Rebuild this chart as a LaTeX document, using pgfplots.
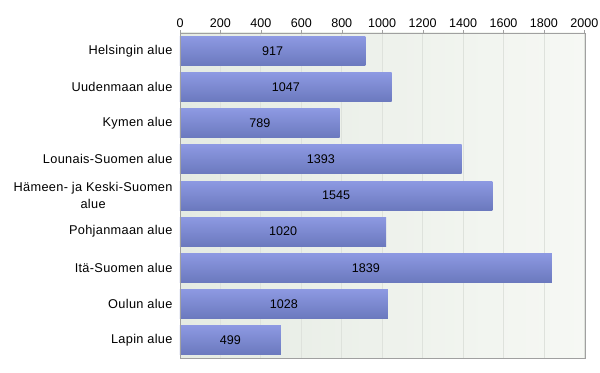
\documentclass[border=0pt]{standalone}
\usepackage{pgfplots}
\pgfplotsset{compat=1.18}
\usepackage{fontspec}
\setmainfont{Liberation Sans}[LetterSpace=2.5]
\newfontfamily\plainfont{Liberation Sans}
\definecolor{bgL}{RGB}{229,235,227}
\definecolor{bgR}{RGB}{246,248,244}
\definecolor{barT}{RGB}{141,153,226}
\definecolor{barB}{RGB}{107,121,190}
\definecolor{gridc}{RGB}{222,226,220}
\definecolor{axc}{RGB}{160,160,160}
\newcommand{\lblfont}{\fontsize{12.8}{17}\selectfont}
\newcommand{\tickfont}{\plainfont\fontsize{12.6}{15}\selectfont}
\pgfplotsset{onebar/.style={xbar, bar width=29bp, bar shift=0pt, draw=none, top color=barT, bottom color=barB, forget plot}}
\begin{document}
\begin{tikzpicture}
\useasboundingbox (-180bp,-15bp) rectangle (420bp,358bp);
\fill[left color=bgL, right color=bgR] (0,0) rectangle (405bp,325bp);
\begin{axis}[
  at={(0,0)}, anchor=south west,
  scale only axis, width=405bp, height=325bp,
  xmin=0, xmax=2003, ymin=-0.5, ymax=8.5,
  y dir=reverse,
  axis x line*=top,
  xtick={0,200,...,2000},
  xtick pos=top,
  tick align=outside,
  major tick length=3bp,
  xticklabel style={font=\tickfont, yshift=-1bp},
  /pgf/number format/assume math mode=true,
  /pgf/number format/1000 sep={},
  ytick={0,...,8},
  yticklabels={Helsingin alue, Uudenmaan alue, Kymen alue, Lounais-Suomen alue, {Hämeen- ja Keski-Suomen\\alue}, Pohjanmaan alue, Itä-Suomen alue, Oulun alue, Lapin alue},
  yticklabel style={align=center, font=\lblfont, xshift=-1bp},
  ytick style={draw=none},
  xmajorgrids,
  grid style={gridc, line width=0.8pt},
  axis line style={axc},
  tick style={axc},
]
\addplot[onebar] coordinates {(917,0)};
\addplot[onebar] coordinates {(1047,1)};
\addplot[onebar] coordinates {(789,2)};
\addplot[onebar] coordinates {(1393,3)};
\addplot[onebar] coordinates {(1545,4)};
\addplot[onebar] coordinates {(1020,5)};
\addplot[onebar] coordinates {(1839,6)};
\addplot[onebar] coordinates {(1028,7)};
\addplot[onebar] coordinates {(499,8)};
\addplot[draw=none, mark=none, nodes near coords, point meta=explicit symbolic,
  every node near coord/.append style={anchor=center, font=\tickfont, text=black}]
  coordinates {(458.5,0) [917] (523.5,1) [1047] (394.5,2) [789] (696.5,3) [1393] (772.5,4) [1545] (510,5) [1020] (919.5,6) [1839] (514,7) [1028] (249.5,8) [499]};
\end{axis}
\draw[axc] (0,0) rectangle (405bp,325bp);
\end{tikzpicture}
\end{document}
